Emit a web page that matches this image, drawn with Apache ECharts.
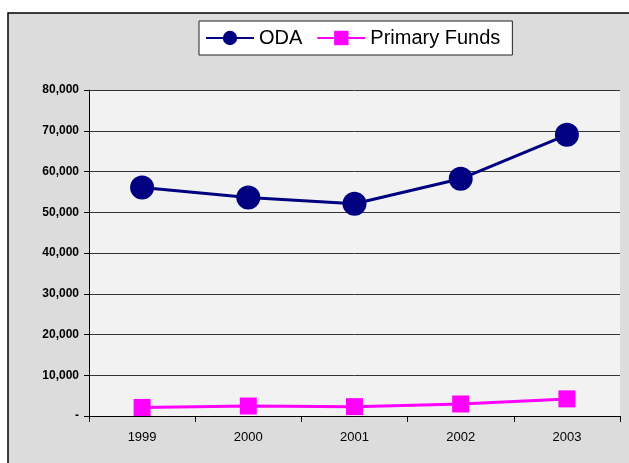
<!DOCTYPE html>
<html>
<head>
<meta charset="utf-8">
<script src="https://cdn.jsdelivr.net/npm/echarts@6/dist/echarts.min.js"></script>
<style>
html, body { margin: 0; padding: 0; background: #fff; }
#main { width: 629px; height: 463px; }
</style>
</head>
<body>
<div id="main"></div>
<script>
var years = ['1999', '2000', '2001', '2002', '2003'];
var odaValues = [56100, 53600, 52100, 58200, 69000];
var primaryValues = [2100, 2450, 2300, 2950, 4200];

var myChart = echarts.init(document.getElementById('main'));

// zero shows as a dash, others with thousands commas
function fmt(v) {
    if (v === 0) return '-';
    return String(v).replace(/\B(?=(\d{3})+(?!\d))/g, ',');
}

var option = {
    animation: false,
    backgroundColor: '#fff',
    graphic: [{
        type: 'rect',
        shape: { x: 8, y: 13, width: 640, height: 470 },
        style: { fill: '#dcdcdc', stroke: '#000', lineWidth: 1.5 },
        z: -10
    }],
    legend: {
        left: 199,
        top: 21,
        itemGap: 14,
        itemWidth: 48,
        itemHeight: 18,
        padding: [7, 12, 7, 6],
        backgroundColor: '#fff',
        borderColor: '#222',
        borderWidth: 1,
        textStyle: { fontFamily: 'Liberation Sans', fontSize: 20, color: '#000' },
        data: ['ODA', 'Primary Funds']
    },
    grid: {
        left: 89,
        right: 9,
        top: 90,
        bottom: 47,
        show: true,
        backgroundColor: '#f2f2f2',
        borderWidth: 0
    },
    xAxis: {
        type: 'category',
        data: years,
        boundaryGap: true,
        axisLine: { lineStyle: { color: '#000', width: 1 } },
        axisTick: { show: true, length: 6, lineStyle: { color: '#000' } },
        axisLabel: { fontFamily: 'Liberation Sans', fontSize: 13, color: '#000', margin: 15 }
    },
    yAxis: {
        type: 'value',
        min: 0,
        max: 80000,
        interval: 10000,
        axisLine: { show: true, lineStyle: { color: '#000', width: 1 } },
        axisTick: { show: true, length: 5, lineStyle: { color: '#000' } },
        splitLine: { lineStyle: { color: '#333', width: 1 } },
        axisLabel: {
            fontFamily: 'Liberation Sans', fontSize: 12, fontWeight: 'bold', color: '#000', margin: 10,
            formatter: function (v) { return fmt(v); }
        }
    },
    series: [{
        name: 'ODA',
        type: 'line',
        data: odaValues,
        symbol: 'circle',
        symbolSize: 24,
        color: '#000080',
        lineStyle: { color: '#000080', width: 3 },
        itemStyle: { color: '#000080' }
    }, {
        name: 'Primary Funds',
        type: 'line',
        data: primaryValues,
        symbol: 'rect',
        symbolSize: 17,
        color: '#ff00ff',
        lineStyle: { color: '#ff00ff', width: 3 },
        itemStyle: { color: '#ff00ff' }
    }]
};

myChart.setOption(option);
</script>
</body>
</html>
